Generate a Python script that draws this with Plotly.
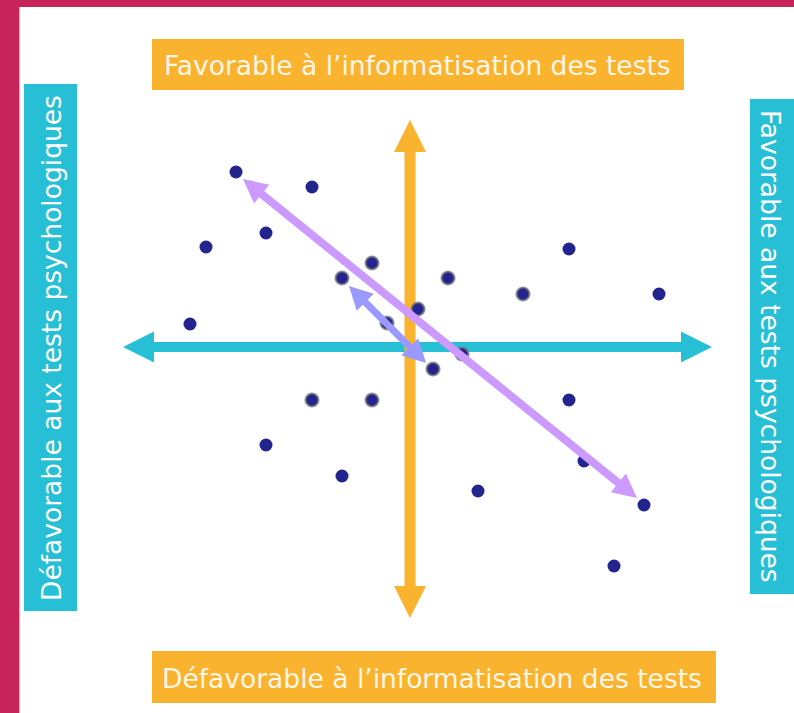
import plotly.graph_objects as go

# scatter positions, origin at the crossing of the two axes
x_vals = [-174, -98, -204, -144, -38, -68, 38, 113, 159, 249, -220, -23,
          8, 23, 52, -98, -38, 159, -144, -68, 68, 174, 234, 204]
y_vals = [175, 160, 100, 114, 84, 69, 69, 53, 98, 53, 23, 24,
          38, -22, -7, -53, -53, -53, -98, -129, -144, -114, -158, -219]
outlined = [False, False, False, False, True, True, True, True, False, False, False, True,
            True, True, True, True, True, False, False, False, False, False, False, False]

label_top = "Favorable à l’informatisation des tests"
label_bottom = "Défavorable à l’informatisation des tests"
label_left = "Défavorable aux tests psychologiques"
label_right = "Favorable aux tests psychologiques"

ORANGE = "#F9B32F"
CYAN = "#26BFD6"
PURPLE = "#CC99FF"
BLUE = "#9999FF"
NAVY = "#24248F"
BORDER = "#C8245C"

# figure pixel -> axis units (1 unit = 1 px, origin at axis crossing)
OX, OY = 410, 347
W, H = 794, 713


def px(x):
    return x - OX


def py(y):
    return OY - y


def arrow_shapes(p0, p1, color, width, head_len, head_half, layer, both=True):
    (x0, y0), (x1, y1) = p0, p1
    dx, dy = x1 - x0, y1 - y0
    n = (dx * dx + dy * dy) ** 0.5
    ux, uy = dx / n, dy / n
    vx, vy = -uy, ux
    inset = head_len * 0.8
    sx0 = x0 + ux * inset if both else x0
    sy0 = y0 + uy * inset if both else y0
    out = [dict(type="line", x0=sx0, y0=sy0, x1=x1 - ux * inset, y1=y1 - uy * inset,
                line=dict(color=color, width=width), layer=layer)]

    def head(tx, ty, sx, sy):
        bx, by = tx - sx * head_len, ty - sy * head_len
        path = (f"M{tx},{ty} L{bx + vx * head_half},{by + vy * head_half} "
                f"L{bx - vx * head_half},{by - vy * head_half} Z")
        return dict(type="path", path=path, fillcolor=color, line=dict(width=0), layer=layer)

    out.append(head(x1, y1, ux, uy))
    if both:
        out.append(head(x0, y0, -ux, -uy))
    return out


fig = go.Figure()
fig.add_trace(go.Scatter(
    x=x_vals, y=y_vals, mode="markers",
    marker=dict(size=13, color=NAVY,
                line=dict(color=["rgba(120,120,120,0.75)" if o else "rgba(255,255,255,0)" for o in outlined],
                          width=[2.2 if o else 0 for o in outlined])),
    hoverinfo="skip", showlegend=False,
))

shapes = []
# page border
shapes.append(dict(type="rect", x0=px(0), x1=px(19), y0=py(0), y1=py(H), fillcolor=BORDER, line=dict(width=0)))
shapes.append(dict(type="rect", x0=px(19), x1=px(20), y0=py(7), y1=py(H), fillcolor="#E8A0BA", line=dict(width=0)))
shapes.append(dict(type="rect", x0=px(0), x1=px(W), y0=py(0), y1=py(7), fillcolor=BORDER, line=dict(width=0)))

# label boxes
boxes = [(152, 684, 39, 90, ORANGE), (152, 716, 651, 703, ORANGE),
         (24, 77, 84, 611, CYAN), (750, 800, 99, 594, CYAN)]
for x0, x1, y0, y1, c in boxes:
    shapes.append(dict(type="rect", x0=px(x0), x1=px(x1), y0=py(y0), y1=py(y1), fillcolor=c, line=dict(width=0)))

# axes (below the points)
shapes += arrow_shapes((px(123), 0), (px(712), 0), CYAN, 10, 31, 15.5, "below")
shapes += arrow_shapes((0, py(618)), (0, py(120)), ORANGE, 11, 32, 16, "below")
# trend arrows (above the points)
shapes += arrow_shapes((px(243), py(179)), (px(637), py(498)), PURPLE, 8, 24, 12, "above")
shapes += arrow_shapes((px(349), py(286)), (px(426), py(363)), BLUE, 7, 23, 12, "above")

font = dict(family="DejaVu Sans, Verdana, sans-serif", size=26.5)
annotations = [
    dict(x=px(417), y=py(65), text=label_top, textangle=0, font=dict(font, color="#FFF6E6")),
    dict(x=px(432), y=py(678), text=label_bottom, textangle=0, font=dict(font, color="#FFF6E6")),
    dict(x=px(51), y=py(348), text=label_left, textangle=-90, font=dict(font, color="white")),
    dict(x=px(771), y=py(346), text=label_right, textangle=90, font=dict(font, color="white")),
]
for a in annotations:
    a.update(xref="x", yref="y", showarrow=False, xanchor="center", yanchor="middle")

fig.update_layout(
    width=W, height=H,
    margin=dict(l=0, r=0, t=0, b=0),
    paper_bgcolor="white", plot_bgcolor="white",
    xaxis=dict(range=[px(0), px(W)], visible=False, fixedrange=True),
    yaxis=dict(range=[py(H), py(0)], visible=False, fixedrange=True),
    shapes=shapes, annotations=annotations,
    showlegend=False,
)

fig.write_html("out.html", config={"displayModeBar": False},
               post_script="document.body.style.margin='0';")
